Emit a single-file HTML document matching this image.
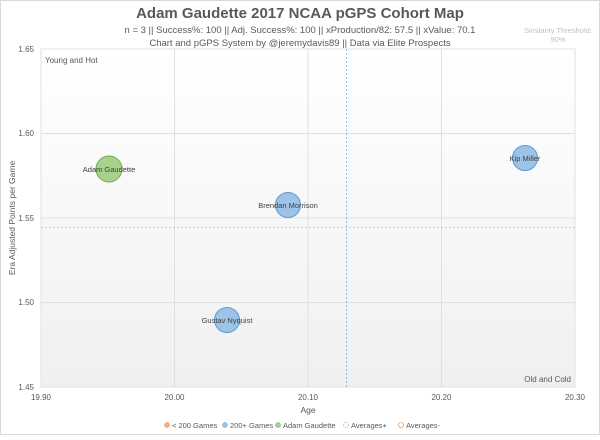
<!DOCTYPE html>
<html><head><style>
body{margin:0;background:#fff;}
svg text{font-family:"Liberation Sans",sans-serif;}
</style></head><body>
<svg width="600" height="435" xmlns="http://www.w3.org/2000/svg">
<defs><linearGradient id="bg" x1="0" y1="0" x2="0" y2="1"><stop offset="0" stop-color="#ffffff"/><stop offset="1" stop-color="#f0f0f0"/></linearGradient></defs>
<rect x="0.5" y="0.5" width="599" height="434" fill="#fff" stroke="#d9d9d9"/>
<text x="300" y="18" text-anchor="middle" font-size="15" font-weight="bold" fill="#595959">Adam Gaudette 2017 NCAA pGPS Cohort Map</text>
<text x="300" y="33" text-anchor="middle" font-size="9.5" fill="#595959">n = 3 || Success%: 100 || Adj. Success%: 100 || xProduction/82: 57.5 || xValue: 70.1</text>
<text x="300" y="46" text-anchor="middle" font-size="9.5" fill="#595959">Chart and pGPS System by @jeremydavis89 || Data via Elite Prospects</text>
<text x="558" y="33" text-anchor="middle" font-size="7.5" fill="#bfbfbf">Similarity Threshold:</text>
<text x="558" y="42" text-anchor="middle" font-size="7.5" fill="#bfbfbf">90%</text>
<rect x="41" y="49" width="534" height="338" fill="url(#bg)"/>
<g stroke="#e0e0e0" stroke-width="1">
<line x1="174.5" y1="49" x2="174.5" y2="387"/><line x1="308" y1="49" x2="308" y2="387"/><line x1="441.5" y1="49" x2="441.5" y2="387"/>
<line x1="41" y1="133.5" x2="575" y2="133.5"/><line x1="41" y1="218" x2="575" y2="218"/><line x1="41" y1="302.5" x2="575" y2="302.5"/>
<rect x="41" y="49" width="534" height="338" fill="none"/>
</g>
<line x1="346.5" y1="49" x2="346.5" y2="387" stroke="#7fb1e0" stroke-dasharray="2,2" stroke-width="0.8"/>
<line x1="41" y1="227.5" x2="575" y2="227.5" stroke="#9dc3e6" stroke-dasharray="2,2" stroke-width="0.8"/>
<text x="45" y="63" font-size="8" fill="#595959">Young and Hot</text>
<text x="571" y="382" text-anchor="end" font-size="8" fill="#595959">Old and Cold</text>
<g font-size="8" fill="#595959" text-anchor="end">
<text x="34" y="52">1.65</text><text x="34" y="136">1.60</text><text x="34" y="221">1.55</text><text x="34" y="305">1.50</text><text x="34" y="390">1.45</text>
</g>
<g font-size="8" fill="#595959" text-anchor="middle">
<text x="41" y="400">19.90</text><text x="174.5" y="400">20.00</text><text x="308" y="400">20.10</text><text x="441.5" y="400">20.20</text><text x="575" y="400">20.30</text>
<text x="308" y="413" font-size="8.5">Age</text>
</g>
<text transform="translate(15,218) rotate(-90)" text-anchor="middle" font-size="8.5" fill="#595959">Era Adjusted Points per Game</text>
<circle cx="109" cy="169" r="13" fill="#a9d18e" stroke="#70ad47"/>
<circle cx="288" cy="205" r="12.5" fill="#9dc3e6" stroke="#5b9bd5"/>
<circle cx="525" cy="158" r="12.5" fill="#9dc3e6" stroke="#5b9bd5"/>
<circle cx="227" cy="320" r="12.5" fill="#9dc3e6" stroke="#5b9bd5"/>
<g font-size="7.5" fill="#404040" text-anchor="middle">
<text x="109" y="172">Adam Gaudette</text>
<text x="288" y="208">Brendan Morrison</text>
<text x="525" y="161">Kip Miller</text>
<text x="227" y="323">Gustav Nyquist</text>
</g>
<g font-size="7.5" fill="#595959">
<circle cx="167" cy="425" r="2.5" fill="#f4b183" stroke="#ed7d31" stroke-width="0.5"/><text x="172" y="428">&lt; 200 Games</text>
<circle cx="225" cy="425" r="2.5" fill="#9dc3e6" stroke="#5b9bd5" stroke-width="0.5"/><text x="230" y="428">200+ Games</text>
<circle cx="278" cy="425" r="2.5" fill="#a9d18e" stroke="#70ad47" stroke-width="0.5"/><text x="283" y="428">Adam Gaudette</text>
<circle cx="346" cy="425" r="2.5" fill="none" stroke="#5b9bd5" stroke-width="0.6" stroke-dasharray="1,1"/><text x="351" y="428">Averages+</text>
<circle cx="401" cy="425" r="2.5" fill="none" stroke="#ed7d31" stroke-width="0.6"/><text x="406" y="428">Averages-</text>
</g>
</svg>
</body></html>
